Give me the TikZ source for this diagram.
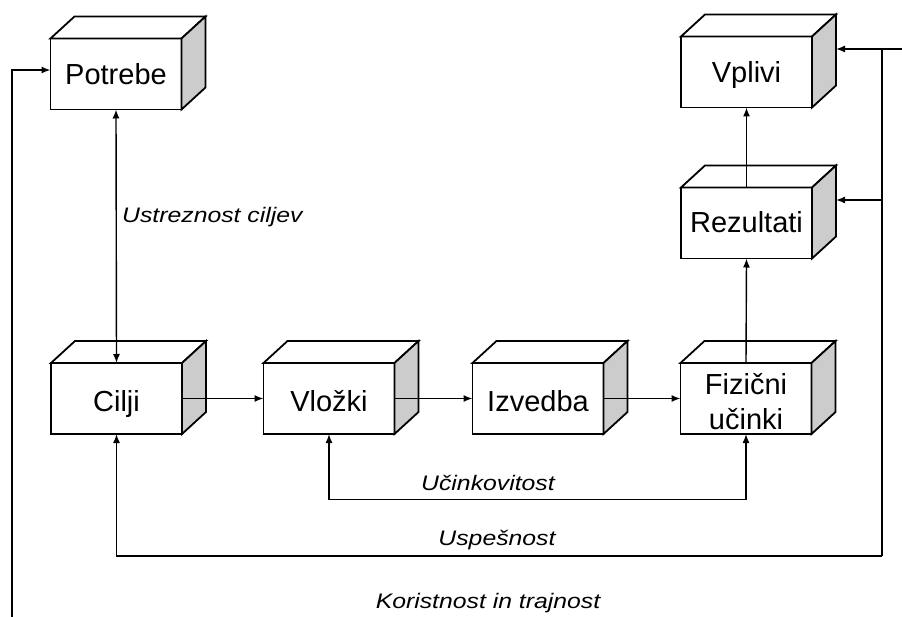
\documentclass[tikz,border=0pt]{standalone}
\usepackage{fontspec}
\setmainfont{Liberation Sans}
\newfontfamily\labfont[FakeStretch=1.18]{Liberation Sans}
\usetikzlibrary{arrows.meta}
\definecolor{sidegray}{RGB}{204,204,204}
\newcommand\bxt[2]{\raisebox{#1}[0pt][0pt]{\makebox[0pt]{#2}}}
\tikzset{
  cubebox/.style={draw, line width=1.8pt, fill=white, minimum width=131pt, minimum height=71pt,
    inner sep=0pt, outer sep=0pt, font=\fontsize{29}{33}\selectfont},
  face/.style={line width=1.8pt, line join=miter},
  conn/.style={line width=1.4pt, -{Latex[length=9pt,width=7pt]}},
  plain/.style={line width=1.4pt},
  lab/.style={font=\labfont\itshape\fontsize{21}{24}\selectfont, inner sep=0pt}
}
\begin{document}
\begin{tikzpicture}[x={(1pt,0pt)}, y={(0pt,-1pt)}]
\useasboundingbox (0,0) rectangle (902,617);
% boxes
\node[cubebox] (pot) at (116,74) {\bxt{-11pt}{Potrebe}};
\node[cubebox] (vpl) at (746.5,72) {\bxt{-11pt}{Vplivi}};
\node[cubebox] (rez) at (746.5,223) {\bxt{-10pt}{Rezultati}};
\node[cubebox] (cil) at (116.5,398.5) {\bxt{-13pt}{Cilji}};
\node[cubebox] (vlo) at (329,398.5) {\bxt{-13pt}{Vložki}};
\node[cubebox] (izv) at (538,398.5) {\bxt{-13pt}{Izvedba}};
\node[cubebox] (fiz) at (746,398.5) {\bxt{4.5pt}{Fizični}\bxt{-31.5pt}{učinki}};
\foreach \n in {pot,vpl,rez,cil,vlo,izv,fiz}{
  \filldraw[face, fill=white] (\n.north west) -- ([shift={(24,-22)}]\n.north west)
    -- ([shift={(24,-22)}]\n.north east) -- (\n.north east) -- cycle;
  \filldraw[face, fill=sidegray] (\n.north east) -- ([shift={(24,-22)}]\n.north east)
    -- ([shift={(24,-22)}]\n.south east) -- (\n.south east) -- cycle;
}
% coordinates
\coordinate (vin) at ([shift={(24,-23)}]vpl.east);
\coordinate (rin) at ([shift={(24,-23)}]rez.east);
\coordinate (redge) at (902,49);
\coordinate (usR) at (882,556);
\coordinate (kb) at (12,617);
% connectors
\draw[conn, {Latex[length=9pt,width=7pt]}-{Latex[length=9pt,width=7pt]}] (pot.south) -- (cil.north);
\draw[conn] (cil.east) -- (vlo.west);
\draw[conn] (vlo.east) -- (izv.west);
\draw[conn] (izv.east) -- (fiz.west);
\draw[conn] (fiz.north) -- (rez.south);
\draw[conn] (rez.north) -- (vpl.south);
\draw[conn, {Latex[length=9pt,width=7pt]}-{Latex[length=9pt,width=7pt]}] (vlo.south) -- ++(0,65.5) -| (fiz.south);
\draw[conn] (usR) -| (cil.south);
\draw[plain] (usR) -- (usR |- vin);
\draw[conn] (redge) -- (vin);
\draw[conn] (usR |- rin) -- (rin);
\draw[conn] (kb) |- ([yshift=4]pot.west);
% labels
\node[lab, anchor=west] (l1) at (122,217) {Ustreznost ciljev};
\node[lab] (l2) at (488,483) {Učinkovitost};
\node[lab] (l3) at (497,540) {Uspešnost};
\node[lab] (l4) at (488,603) {Koristnost in trajnost};
\end{tikzpicture}
\end{document}
